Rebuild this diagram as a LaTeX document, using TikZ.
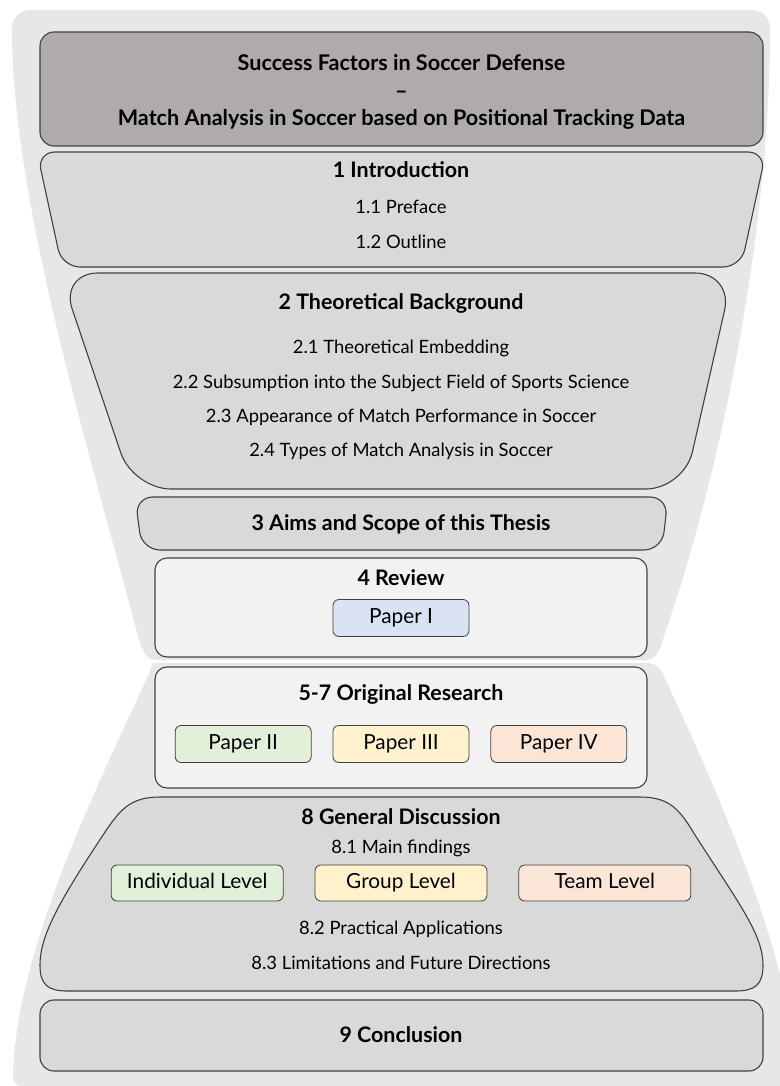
\documentclass[tikz,border=0pt]{standalone}
\usepackage{fontspec}
\setmainfont{Lato}
\usetikzlibrary{positioning}

\definecolor{funnelgrey}{HTML}{E7E7E7}
\definecolor{titlegrey}{HTML}{AFABAB}
\definecolor{partgrey}{HTML}{D9D9D9}
\definecolor{papergrey}{HTML}{F2F2F2}
\definecolor{lineblack}{HTML}{404040}
\definecolor{paperblue}{HTML}{DAE3F3}
\definecolor{papergreen}{HTML}{E2F0D9}
\definecolor{paperyellow}{HTML}{FFF2CC}
\definecolor{paperred}{HTML}{FBE5D6}

\tikzset{
    part/.style={draw=lineblack, line width=1.1pt},
    titlehead/.style={font=\fontsize{21.6}{27.5}\selectfont\bfseries, align=center},
    parthead/.style={font=\fontsize{21.4}{25}\selectfont\bfseries, text height=19pt, text depth=4.5pt},
    partitem/.style={font=\fontsize{18.4}{22}\selectfont, text height=16pt, text depth=4pt},
    paperbox/.style={partitem, font=\fontsize{20.8}{24}\selectfont, text height=15pt, text depth=4.5pt,
        draw=lineblack, line width=0.8pt, rounded corners=6pt,
        minimum width=136pt, minimum height=37pt, inner sep=0pt},
    levelbox/.style={paperbox, minimum width=172pt, minimum height=36pt},
}

\begin{document}
\begin{tikzpicture}[x=1pt, y=-1pt]
    \useasboundingbox (0,0) rectangle (779,1086);

    % funnel behind the parts
    \fill[funnelgrey] (32,10) -- (750,10) .. controls (763,10) and (770,17) .. (770,30)
        .. controls (770,220) and (725,460) .. (664,636)
        .. controls (660,652) and (655,660) .. (645,660) -- (157,660)
        .. controls (147,660) and (142,652) .. (138,636)
        .. controls (89,450) and (12,200) .. (12,30)
        .. controls (12,17) and (19,10) .. (32,10) -- cycle;
    \fill[funnelgrey] (157,663) -- (645,663) .. controls (655,663) and (660,667) .. (663,674)
        .. controls (714,784) and (790,950) .. (800,1086) -- (22,1086)
        .. controls (16,1086) and (13,1082) .. (13,1076)
        .. controls (16,950) and (98,784) .. (149,674)
        .. controls (152,667) and (150,663) .. (157,663) -- cycle;

    \draw[part, fill=titlegrey, rounded corners=14pt] (40,32) rectangle (763,146);
    \draw[part, fill=partgrey, rounded corners=18pt]
        (400,152) -- (766,152) -- (741,267) -- (62,267) -- (37,152) -- cycle;
    \draw[part, fill=partgrey, rounded corners=38pt]
        (400,273) -- (733,273) -- (684,489) -- (133,489) -- (60,273) -- cycle;
    \draw[part, fill=partgrey, rounded corners=18pt]
        (400,497) -- (668,497) -- (662,550) -- (142,550) -- (135,497) -- cycle;
    \draw[part, fill=papergrey, rounded corners=12pt] (155,558) rectangle (647,657);
    \draw[part, fill=papergrey, rounded corners=12pt] (155,667) rectangle (647,788);
    \draw[part, fill=partgrey] (160,797) -- (640,797)
        .. controls (670,797) and (680,810) .. (695,835)
        .. controls (740,905) and (763,935) .. (763,965)
        .. controls (763,985) and (755,991) .. (735,991) -- (68,991)
        .. controls (48,991) and (40,985) .. (40,965)
        .. controls (40,935) and (60,900) .. (105,832)
        .. controls (120,810) and (130,797) .. (160,797) -- cycle;
    \draw[part, fill=partgrey, rounded corners=14pt] (40,1000) rectangle (763,1071);

    \node[titlehead] (title) at (401.5,92)
        {Success Factors in Soccer Defense\\–\\Match Analysis in Soccer based on Positional Tracking Data};

    \node[parthead] (intro) at (401,170) {1 Introduction};
    \node[partitem] (preface) at (401,207) {1.1 Preface};
    \node[partitem] (outline) at (401,242) {1.2 Outline};

    \node[parthead] (theory) at (401,302) {2 Theoretical Background};
    \node[partitem] (embed) at (401,347) {2.1 Theoretical Embedding};
    \node[partitem] (subsum) at (401,382) {2.2 Subsumption into the Subject Field of Sports Science};
    \node[partitem] (appear) at (401,416) {2.3 Appearance of Match Performance in Soccer};
    \node[partitem] (types) at (401,450) {2.4 Types of Match Analysis in Soccer};

    \node[parthead] (aims) at (401,523) {3 Aims and Scope of this Thesis};

    \node[parthead] (review) at (401,578) {4 Review};
    \node[paperbox, fill=paperblue] (paper1) at (401,618) {Paper I};

    \node[parthead] (research) at (401,693) {5-7 Original Research};
    \node[paperbox, fill=paperyellow] (paper3) at (401,744) {Paper III};
    \node[paperbox, fill=papergreen, left=21pt of paper3] (paper2) {Paper II};
    \node[paperbox, fill=paperred, right=21pt of paper3] (paper4) {Paper IV};

    \node[parthead] (discuss) at (401,817) {8 General Discussion};
    \node[partitem] (findings) at (401,847) {8.1 Main findings};
    \node[levelbox, fill=paperyellow] (group) at (401,883) {Group Level};
    \node[levelbox, fill=papergreen, left=31pt of group] (indiv) {Individual Level};
    \node[levelbox, fill=paperred, right=31pt of group] (team) {Team Level};
    \node[partitem] (practice) at (401,928) {8.2 Practical Applications};
    \node[partitem] (limits) at (401,963) {8.3 Limitations and Future Directions};

    \node[parthead] (concl) at (401,1035) {9 Conclusion};
\end{tikzpicture}
\end{document}
